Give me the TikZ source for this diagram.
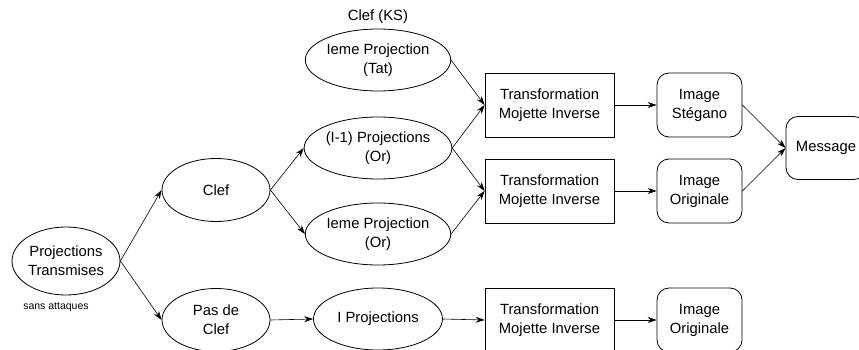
\documentclass[tikz,border=0pt]{standalone}
\usepackage{fontspec}
\setmainfont{Liberation Sans}
\usetikzlibrary{shapes.geometric,arrows.meta}
\tikzset{
  proj/.style={draw,ellipse,minimum width=129pt,minimum height=62pt,inner sep=0pt,align=center},
  transf/.style={draw,rectangle,minimum width=129pt,minimum height=64pt,inner sep=0pt,align=center},
  img/.style={draw,rectangle,rounded corners=12pt,minimum width=85pt,minimum height=64pt,inner sep=0pt,align=center},
  fleche/.style={-{Stealth[length=9pt,width=6pt]},line width=0.6pt}
}

\begin{document}
\begin{tikzpicture}[x=1pt,y=-1pt,font=\fontsize{14.8}{19}\selectfont,line width=0.8pt]
  \useasboundingbox (0,0) rectangle (859,350);
  % Depart
  \node[proj,minimum width=108pt,minimum height=68pt] (trans) at (66,261) {Projections\\Transmises};
  \node[font=\fontsize{10.5}{12}\selectfont] (sans) at (56,307) {sans attaques};
  \node[proj,minimum width=108pt,minimum height=63pt] (clef) at (216,190) {Clef};
  \node[proj,minimum width=108pt,minimum height=63pt] (pasclef) at (216,320) {Pas de\\Clef};
  % Projections
  \node[proj] (tat) at (378,60) {Ieme Projection\\(Tat)};
  \node (ks) at (378,17) {Clef (KS)};
  \node[proj] (moins) at (378,148) {(I-1) Projections\\(Or)};
  \node[proj] (ieme) at (378,234) {Ieme Projection\\(Or)};
  \node[proj] (toutes) at (378,319) {I Projections};
  % Transformations
  \node[transf] (mi1) at (549.5,105) {Transformation\\Mojette Inverse};
  \node[transf] (mi2) at (549.5,191) {Transformation\\Mojette Inverse};
  \node[transf] (mi3) at (549.5,320) {Transformation\\Mojette Inverse};
  % Images
  \node[img] (steg) at (699.5,105) {Image\\St\'egano};
  \node[img] (orig) at (699.5,191) {Image\\Originale};
  \node[img] (orig3) at (699.5,320) {Image\\Originale};
  \node[img,minimum width=80pt,minimum height=63pt] (msg) at (826,148) {Message};
  % Fleches
  \draw[fleche] (trans.east) -- (clef.west);
  \draw[fleche] (trans.east) -- (pasclef.west);
  \draw[fleche] (clef.east) -- (moins.west);
  \draw[fleche] (clef.east) -- (ieme.west);
  \draw[fleche] (pasclef.east) -- (toutes.west);
  \draw[fleche] (tat.east) -- (mi1.west);
  \draw[fleche] (moins.east) -- (mi1.west);
  \draw[fleche] (moins.east) -- (mi2.west);
  \draw[fleche] (ieme.east) -- (mi2.west);
  \draw[fleche] (toutes.east) -- (mi3.west);
  \draw[fleche] (mi1.east) -- (steg.west);
  \draw[fleche] (mi2.east) -- (orig.west);
  \draw[fleche] (mi3.east) -- (orig3.west);
  \draw[fleche] (steg.east) -- (msg.west);
  \draw[fleche] (orig.east) -- (msg.west);
\end{tikzpicture}
\end{document}
